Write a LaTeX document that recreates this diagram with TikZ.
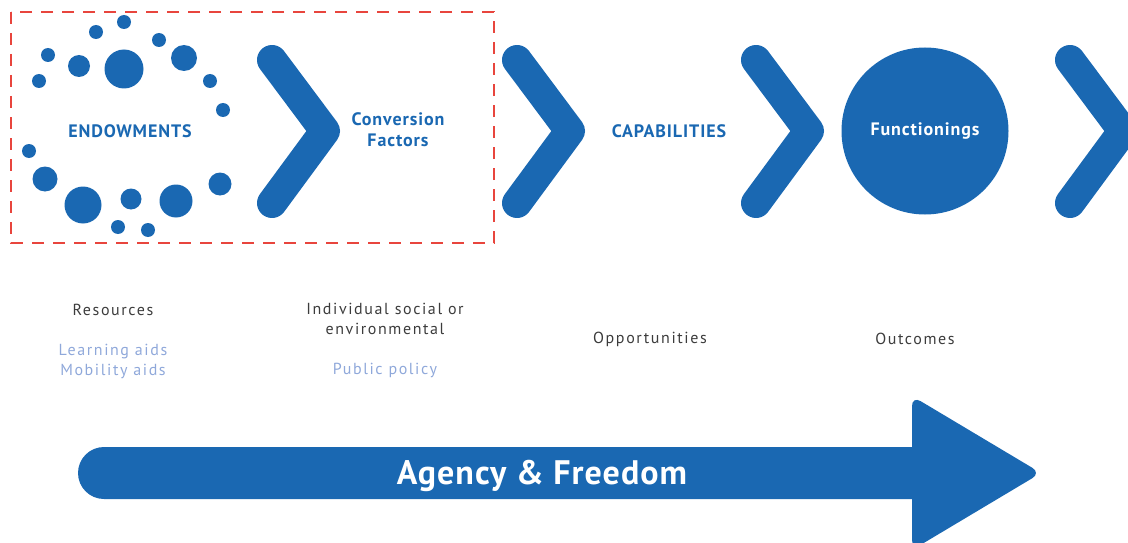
\documentclass[tikz,border=0pt]{standalone}
\usepackage{fontspec}
\setmainfont{PT Sans}
\definecolor{capblue}{HTML}{1A68B2}
\definecolor{aidblue}{HTML}{8FA8DA}
\definecolor{txtgray}{HTML}{3C3C3C}
\definecolor{boxred}{HTML}{E8453D}
\begin{document}
\begin{tikzpicture}[x=1pt,y=-1pt,
  chev/.style={draw=capblue,line width=30pt,line cap=round,line join=round},
  dot/.style={fill=capblue},
  head/.style={text=capblue,font=\fontsize{18}{21}\selectfont\bfseries\addfontfeatures{LetterSpace=5},align=center},
  sub/.style={text=txtgray,font=\fontsize{16}{20}\selectfont\addfontfeatures{LetterSpace=10},align=center},
  aid/.style={sub,text=aidblue}]
  \useasboundingbox (0,0) rectangle (1128,543);
  % dashed box round the first two steps
  \draw[boxred,line width=1.8pt,dash pattern=on 12pt off 9pt] (11,12) rectangle (494,243);
  % ring of resource dots
  \foreach \x/\y/\r in {124/22/7,96/32/7,159/40/7,48/55/7,79/66/11,124/69/19.5,
      184/58/13,39/81/7,210/81/7,223/110/7,29/151/7,45/179/12.5,83/205/18.5,
      131/199/10.5,176/201/16.5,220/184/11.5,118/227/7,148/230/7}
    \fill[dot] (\x,\y) circle (\r);
  % chevrons
  \foreach \l in {257,502,741,1055}
    \draw[chev] (\l+15,60) -- (\l+68,131) -- (\l+15,203);
  \fill[capblue] (925,131) circle (83.5);
  \node[head] (endow) at (130,131) {ENDOWMENTS};
  \node[head] (conv) at (398,130) {Conversion\\Factors};
  \node[head] (capab) at (669,131) {CAPABILITIES};
  \node[head,text=white] (func) at (925,131) {Functionings};
  \node[sub] (res) at (113,310) {Resources};
  \node[aid] (aids) at (113,361) {Learning aids\\Mobility aids};
  \node[sub] (indiv) at (385,319) {Individual social or\\environmental};
  \node[aid] (policy) at (385,370) {Public policy};
  \node[sub] (opp) at (650,339) {Opportunities};
  \node[sub] (outc) at (915,339) {Outcomes};
  % agency arrow
  \fill[capblue,rounded corners=26pt] (78,447) rectangle (940,499);
  \fill[capblue,rounded corners=10pt] (912,396) -- (1041,473) -- (912,550) -- cycle;
  \node[text=white,font=\fontsize{34}{38}\selectfont\bfseries\addfontfeatures{LetterSpace=3},anchor=base] (agency) at (542,484) {Agency \& Freedom};
\end{tikzpicture}
\end{document}
